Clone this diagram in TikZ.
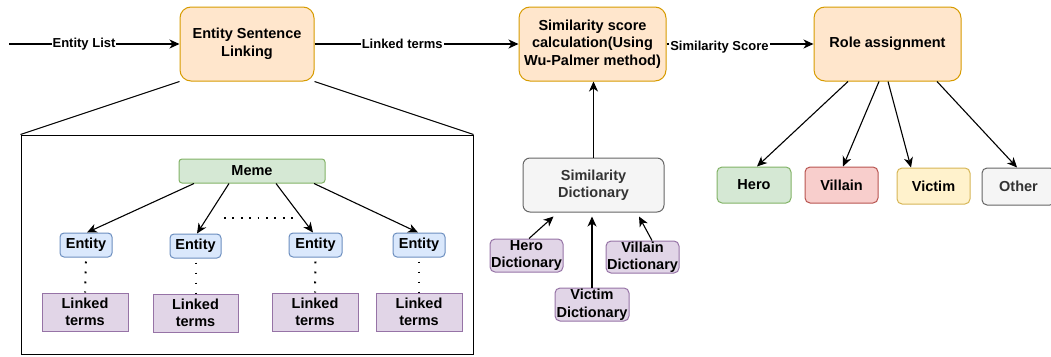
\documentclass[tikz,border=0pt]{standalone}
\usepackage{fontspec}
\setmainfont{Liberation Sans}
\usetikzlibrary{arrows.meta,calc}
\definecolor{orfill}{HTML}{FFE6CC}\definecolor{ordraw}{HTML}{D79B00}
\definecolor{grfill}{HTML}{D5E8D4}\definecolor{grdraw}{HTML}{82B366}
\definecolor{blfill}{HTML}{DAE8FC}\definecolor{bldraw}{HTML}{6C8EBF}
\definecolor{pufill}{HTML}{E1D5E7}\definecolor{pudraw}{HTML}{9673A6}
\definecolor{rdfill}{HTML}{F8CECC}\definecolor{rddraw}{HTML}{B85450}
\definecolor{yefill}{HTML}{FFF2CC}\definecolor{yedraw}{HTML}{D6B656}
\definecolor{gyfill}{HTML}{F5F5F5}\definecolor{gydraw}{HTML}{666666}
\definecolor{gytext}{HTML}{333333}
\tikzset{
  base/.style={draw, line width=1pt, align=center, inner sep=0pt,
    font=\fontsize{14.5}{17.5}\selectfont\bfseries},
  procbox/.style={base, fill=orfill, draw=ordraw, rounded corners=11pt},
  memebox/.style={base, fill=grfill, draw=grdraw, rounded corners=3pt},
  entbox/.style={base, fill=blfill, draw=bldraw, rounded corners=4pt},
  termbox/.style={base, fill=pufill, draw=pudraw},
  dictbox/.style={base, fill=pufill, draw=pudraw, rounded corners=5pt},
  rolehero/.style={base, fill=grfill, draw=grdraw, rounded corners=5pt},
  rolevillain/.style={base, fill=rdfill, draw=rddraw, rounded corners=5pt},
  rolevictim/.style={base, fill=yefill, draw=yedraw, rounded corners=5pt},
  grbox/.style={base, fill=gyfill, draw=gydraw, text=gytext, rounded corners=7pt},
  arr/.style={line width=1.1pt, -{Stealth[length=10pt,width=9pt,inset=3pt]}},
  edgelab/.style={fill=white, inner sep=1pt, font=\fontsize{13}{15}\selectfont\bfseries},
  dots/.style={line width=2pt, dash pattern=on 1.8pt off 8.2pt},
}
\begin{document}
\begin{tikzpicture}[x=1pt,y=-1pt]
\useasboundingbox (0,0) rectangle (1051,356);
% top pipeline
\node[procbox, minimum width=134pt, minimum height=74pt] (esl) at (247,44) {Entity Sentence\\Linking};
\node[procbox, minimum width=147pt, minimum height=74pt] (sim) at (592.5,44) {Similarity score\\calculation(Using\\Wu-Palmer method)};
\node[procbox, minimum width=147pt, minimum height=74pt] (role) at (887.5,44) {Role assignment};
\coordinate (start) at (9,44);
\draw[arr] (start) -- node[edgelab, pos=0.44] {Entity List} (esl.west);
\draw[arr] (esl.east) -- node[edgelab, pos=0.43] {Linked terms} (sim.west);
\draw[arr] (sim.east) -- node[edgelab, pos=0.36, yshift=-3pt] {Similarity Score} (role.west);
% roles
\node[rolehero, minimum width=74pt, minimum height=36pt] (hero) at (754,185) {Hero};
\node[rolevillain, minimum width=73pt, minimum height=36pt] (villain) at (841.5,185) {Villain};
\node[rolevictim, minimum width=73pt, minimum height=36pt] (victim) at (933.5,186) {Victim};
\node[grbox, rounded corners=5pt, minimum width=73pt, minimum height=37pt] (other) at (1018.5,186.5) {Other};
\draw[arr] ([xshift=-39.5pt]role.south) -- ([xshift=3pt]hero.north);
\draw[arr] ([xshift=-8.5pt]role.south) -- ([xshift=1.5pt]villain.north);
\draw[arr] ([xshift=0.5pt]role.south) -- ([xshift=-22.5pt]victim.north);
\draw[arr] ([xshift=49.5pt]role.south) -- ([xshift=-1.5pt]other.north);
% zoom box
\node[draw, line width=1pt, minimum width=452pt, minimum height=219.5pt, inner sep=0pt] (big) at (247,244.75) {};
\draw[line width=1pt] (esl.south west) -- (big.north west);
\draw[line width=1pt] (esl.south east) -- (big.north east);
\node[memebox, minimum width=146pt, minimum height=24pt] (meme) at (252,171) {Meme};
\node[entbox, minimum width=52pt, minimum height=24pt] (e1) at (86,245) {Entity};
\node[entbox, minimum width=51pt, minimum height=24pt] (e2) at (195.5,246) {Entity};
\node[entbox, minimum width=53pt, minimum height=24pt] (e3) at (315.5,245) {Entity};
\node[entbox, minimum width=52pt, minimum height=24pt] (e4) at (419,245) {Entity};
\node[termbox, minimum width=86pt, minimum height=38pt] (l1) at (85,312) {Linked\\terms};
\node[termbox, minimum width=85pt, minimum height=38pt] (l2) at (195.5,313) {Linked\\terms};
\node[termbox, minimum width=86pt, minimum height=38pt] (l3) at (315,312) {Linked\\terms};
\node[termbox, minimum width=86pt, minimum height=38pt] (l4) at (419,312) {Linked\\terms};
\draw[arr] ([xshift=-58pt]meme.south) -- ([xshift=1pt]e1.north);
\draw[arr] ([xshift=-23pt]meme.south) -- ([xshift=1.5pt]e2.north);
\draw[arr] ([xshift=24pt]meme.south) -- ([xshift=-2.5pt]e3.north);
\draw[arr] ([xshift=62pt]meme.south) -- ([xshift=-1pt]e4.north);
\foreach \i in {1,2,3,4}{
  \draw[dots] ([yshift=-4pt]e\i.south) -- (l\i.north);
}
\coordinate (dl) at (224,218);
\coordinate (dr) at (297,218);
\draw[line width=2pt, dash pattern=on 1.8pt off 6.6pt] (dl) -- (dr);
% dictionaries
\node[grbox, minimum width=141pt, minimum height=54pt] (sd) at (593.5,185) {Similarity\\Dictionary};
\draw[arr] (sd.north) -- (sd.north |- sim.south);
\node[dictbox, minimum width=73pt, minimum height=33pt] (hd) at (526.5,255.5) {Hero\\Dictionary};
\node[dictbox, minimum width=73pt, minimum height=32pt] (vd) at (642.5,257) {Villain\\Dictionary};
\node[dictbox, minimum width=74pt, minimum height=33pt] (cd) at (592,304.5) {Victim\\Dictionary};
\coordinate (sdb) at ([yshift=-4pt]sd.south);
\draw[arr] ([xshift=2.5pt]hd.north) -- ([xshift=-40pt,yshift=-4pt]sd.south);
\draw[arr] (cd.north) -- (cd.north |- sdb);
\draw[arr] ([xshift=9.5pt]vd.north) -- ([xshift=45.5pt,yshift=-4pt]sd.south);
\end{tikzpicture}
\end{document}
